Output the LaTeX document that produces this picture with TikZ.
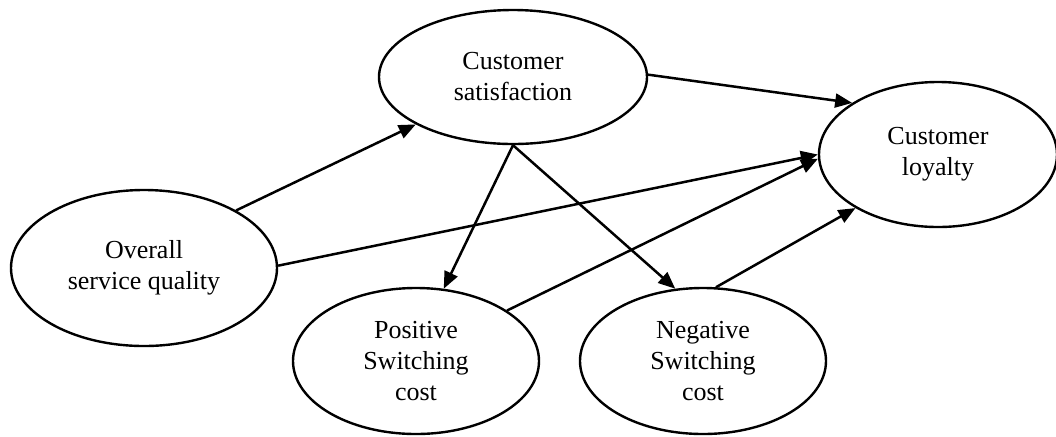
\documentclass[tikz,border=0pt]{standalone}
\usepackage{fontspec}
\setmainfont{Liberation Serif}
\usetikzlibrary{shapes.geometric,arrows.meta}
\tikzset{
  ell/.style={ellipse, draw=black, line width=1.2pt, inner sep=0pt, align=center,
    font=\fontsize{13}{15.5}\selectfont},
  arr/.style={line width=1.25pt, -{Triangle[length=8.5pt,width=7pt]}}
}
\begin{document}
\begin{tikzpicture}[x=0.5pt,y=-0.5pt]
\useasboundingbox (0,0) rectangle (1056,436);
\node[ell, minimum width=134pt, minimum height=67pt] (sat) at (513,77) {Customer\\satisfaction};
\node[ell, minimum width=119pt, minimum height=72.5pt] (loy) at (938,154.5) {Customer\\loyalty};
\node[ell, minimum width=133pt, minimum height=78pt] (osq) at (144,268) {Overall\\service quality};
\node[ell, minimum width=123pt, minimum height=73pt] (pos) at (416,361) {Positive\\Switching\\cost};
\node[ell, minimum width=123pt, minimum height=73pt] (neg) at (703,361) {Negative\\Switching\\cost};
\draw[arr] (osq.32.8) -- (sat.206.8);
\draw[arr] (osq.1.3) -- (loy.180);
\draw[arr] (sat.1) -- (loy.149.2);
\draw[arr] (sat.-90) -- (pos.69.2);
\draw[arr] (sat.-90) -- (neg.111.5);
\draw[arr] (pos.29.5) -- (loy.182);
\draw[arr] (neg.80.7) -- (loy.213.1);
\end{tikzpicture}
\end{document}
